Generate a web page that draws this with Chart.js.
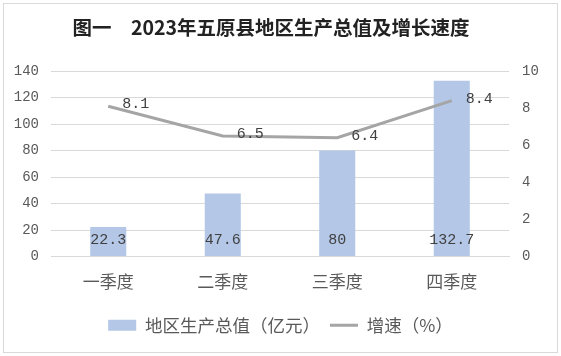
<!DOCTYPE html>
<html>
<head>
<meta charset="utf-8">
<script src="https://cdn.jsdelivr.net/npm/chart.js@4/dist/chart.umd.min.js"></script>
<style>
  html, body { margin: 0; padding: 0; background: #fff; }
  #wrap { width: 561px; height: 356px; position: relative; }
</style>
</head>
<body>
<div id="wrap"><canvas id="c" width="561" height="356"></canvas></div>
<script>
const titleText = '图一　2023年五原县地区生产总值及增长速度';
const categories = ['一季度', '二季度', '三季度', '四季度'];
const gdpLabel = '地区生产总值（亿元）';
const gdpValues = [22.3, 47.6, 80, 132.7];
const growthLabel = '增速（%）';
const growthValues = [8.1, 6.5, 6.4, 8.4];
const leftTicks = [0, 20, 40, 60, 80, 100, 120, 140];
const rightTicks = [0, 2, 4, 6, 8, 10];

const BAR_COLOR = '#B4C7E7';
const LINE_COLOR = '#A5A5A5';
const TEXT_COLOR = '#595959';
const GRID_COLOR = '#D9D9D9';
const CJK = '"Noto Sans CJK SC", "Noto Sans", sans-serif';
const MONO = '"Liberation Mono", "DejaVu Sans Mono", monospace';

const framePlugin = {
  id: 'frame',
  beforeDraw(chart) {
    const ctx = chart.ctx;
    ctx.save();
    ctx.fillStyle = '#fff';
    ctx.fillRect(0, 0, chart.width, chart.height);
    ctx.strokeStyle = '#D9D9D9';
    ctx.lineWidth = 1;
    ctx.strokeRect(3.5, 3.5, chart.width - 7, chart.height - 7);
    ctx.restore();
  },
  afterDraw(chart) {
    const ctx = chart.ctx;
    ctx.save();
    ctx.font = 'bold 19.5px ' + CJK;
    ctx.fillStyle = '#222';
    ctx.textAlign = 'center';
    ctx.textBaseline = 'middle';
    ctx.fillText(titleText, 271, 28);
    ctx.restore();
  }
};

const labelPlugin = {
  id: 'valueLabels',
  afterDatasetsDraw(chart) {
    const ctx = chart.ctx;
    ctx.save();
    ctx.font = '15px ' + MONO;
    ctx.fillStyle = '#404040';
    ctx.textBaseline = 'middle';
    const barMeta = chart.getDatasetMeta(0);
    const y0 = chart.scales.y.getPixelForValue(0);
    ctx.textAlign = 'center';
    barMeta.data.forEach((el, i) => {
      ctx.fillText(String(gdpValues[i]), el.x, y0 - 16);
    });
    const lineMeta = chart.getDatasetMeta(1);
    ctx.textAlign = 'left';
    lineMeta.data.forEach((el, i) => {
      ctx.fillText(growthValues[i].toFixed(1), el.x + 14, el.y - 2);
    });
    ctx.restore();
  }
};

new Chart(document.getElementById('c'), {
  data: {
    labels: categories,
    datasets: [
      {
        type: 'bar',
        label: gdpLabel,
        data: gdpValues,
        backgroundColor: BAR_COLOR,
        yAxisID: 'y',
        order: 2,
        categoryPercentage: 1,
        barPercentage: 0.315
      },
      {
        type: 'line',
        label: growthLabel,
        data: growthValues,
        borderColor: LINE_COLOR,
        backgroundColor: LINE_COLOR,
        borderWidth: 3,
        pointRadius: 0,
        tension: 0,
        yAxisID: 'y1',
        order: 1
      }
    ]
  },
  options: {
    responsive: false,
    animation: false,
    devicePixelRatio: 1,
    layout: { padding: { top: 71, left: 0, right: 0, bottom: 12 } },
    plugins: {
      title: { display: false },
      tooltip: { enabled: false },
      legend: {
        display: true,
        position: 'bottom',
        labels: {
          usePointStyle: true,
          pointStyleWidth: 28,
          boxHeight: 11,
          padding: 10,
          color: TEXT_COLOR,
          font: { family: CJK, size: 17.5 },
          generateLabels() {
            return [
              { text: gdpLabel, fillStyle: BAR_COLOR, strokeStyle: BAR_COLOR, lineWidth: 0, pointStyle: 'rect', datasetIndex: 0, fontColor: TEXT_COLOR },
              { text: growthLabel, fillStyle: LINE_COLOR, strokeStyle: LINE_COLOR, lineWidth: 3, pointStyle: 'line', datasetIndex: 1, fontColor: TEXT_COLOR }
            ];
          }
        }
      }
    },
    scales: {
      x: {
        grid: { display: false, drawTicks: false },
        border: { display: true, color: GRID_COLOR },
        ticks: { color: TEXT_COLOR, font: { family: CJK, size: 17 }, padding: 15 },
        afterFit(s) { s.height = 50; }
      },
      y: {
        position: 'left',
        min: 0, max: 140,
        afterBuildTicks(s) { s.ticks = leftTicks.map(v => ({ value: v })); },
        grid: { color: GRID_COLOR, drawTicks: false },
        border: { display: false },
        ticks: { color: TEXT_COLOR, font: { family: MONO, size: 14 }, padding: 12 },
        afterFit(s) { s.width = 51; }
      },
      y1: {
        position: 'right',
        min: 0, max: 10,
        afterBuildTicks(s) { s.ticks = rightTicks.map(v => ({ value: v })); },
        grid: { display: false, drawTicks: false },
        border: { display: false },
        ticks: { color: TEXT_COLOR, font: { family: MONO, size: 14 }, padding: 13 },
        afterFit(s) { s.width = 52; }
      }
    }
  },
  plugins: [framePlugin, labelPlugin]
});
</script>
</body>
</html>
